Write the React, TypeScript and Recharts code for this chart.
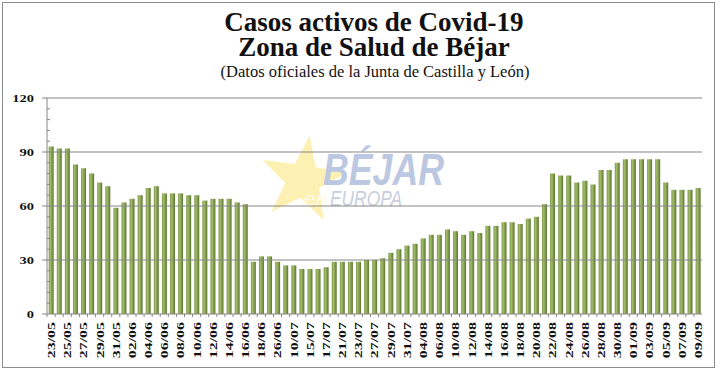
import React from 'react';
import { BarChart, Bar, XAxis, YAxis, ReferenceLine } from 'recharts';

// fechas con dato publicado (etiquetas cada dos barras)
const fechas = [
  '23/05', '24/05', '25/05', '26/05', '27/05', '28/05', '29/05', '30/05', '31/05',
  '01/06', '02/06', '03/06', '04/06', '05/06', '06/06', '07/06', '08/06', '09/06',
  '10/06', '11/06', '12/06', '13/06', '14/06', '15/06', '16/06', '17/06', '18/06',
  '22/06', '26/06', '03/07', '10/07', '14/07', '15/07', '16/07', '17/07', '20/07',
  '21/07', '22/07', '23/07', '24/07', '27/07', '28/07', '29/07', '30/07', '31/07',
  '03/08', '04/08', '05/08', '06/08', '07/08', '10/08', '11/08', '12/08', '13/08',
  '14/08', '15/08', '16/08', '17/08', '18/08', '19/08', '20/08', '21/08', '22/08',
  '23/08', '24/08', '25/08', '26/08', '27/08', '28/08', '29/08', '30/08', '31/08',
  '01/09', '02/09', '03/09', '04/09', '05/09', '06/09', '07/09', '08/09', '09/09'
];

const casos = [
  93, 92, 92, 83, 81, 78, 73, 71, 59,
  62, 64, 66, 70, 71, 67, 67, 67, 66,
  66, 63, 64, 64, 64, 62, 61, 29, 32,
  32, 29, 27, 27, 25, 25, 25, 26, 29,
  29, 29, 29, 30, 30, 31, 34, 36, 38,
  39, 42, 44, 44, 47, 46, 44, 46, 45,
  49, 49, 51, 51, 50, 53, 54, 61, 78,
  77, 77, 73, 74, 72, 80, 80, 84, 86,
  86, 86, 86, 86, 73, 69, 69, 69, 70
];

const yTicks = [0, 6, 12, 18, 24, 30, 36, 42, 48, 54, 60, 66, 72, 78, 84, 90, 96, 102, 108, 114, 120];
const yLabels = [0, 30, 60, 90, 120];
const gridLines = [30, 60, 90, 120];

const data = fechas.map((fecha, i) => ({ fecha, casos: casos[i] }));

const AXIS = '#868686';
const SERIF = '"Liberation Serif", "Times New Roman", serif';

const XTick = (props: any) => {
  const { x, y, index, payload } = props;
  return (
    <g>
      <line x1={x - 4} x2={x - 4} y1={y} y2={y + 3} stroke={AXIS} />
      {index % 2 === 0 && (
        <g transform={`translate(${x},${y + 8})`}>
          <text
            transform="rotate(-90) scale(1.45,1)"
            textAnchor="end"
            dy="0.36em"
            fontFamily={SERIF}
            fontWeight="bold"
            fontSize={11}
            fill="#111"
          >
            {payload.value}
          </text>
        </g>
      )}
    </g>
  );
};

const YTick = (props: any) => {
  const { x, y, payload } = props;
  const major = yLabels.includes(payload.value);
  if (!major) {
    return <line x1={x} x2={x + 3} y1={y} y2={y} stroke={AXIS} />;
  }
  return (
    <g>
      <line x1={x - 5} x2={x} y1={y} y2={y} stroke={AXIS} />
      <g transform={`translate(${x - 13},${y})`}>
        <text
          transform="scale(1.45,1)"
          textAnchor="end"
          dy="0.36em"
          fontFamily={SERIF}
          fontWeight="bold"
          fontSize={10}
          fill="#111"
        >
          {payload.value}
        </text>
      </g>
    </g>
  );
};

// estrella del logo de fondo
const starPoints = (() => {
  const cx = 303, cy = 180, R = 45, r = 18;
  const pts: string[] = [];
  for (let i = 0; i < 10; i++) {
    const a = -Math.PI / 2 + 0.15 + (i * Math.PI) / 5;
    const rad = i % 2 === 0 ? R : r;
    pts.push(`${(cx + rad * Math.cos(a)).toFixed(1)},${(cy + rad * Math.sin(a)).toFixed(1)}`);
  }
  return pts.join(' ');
})();

export default function App() {
  return (
    <div style={{ position: 'absolute', left: 0, top: 0, width: 720, height: 372, background: '#fff' }}>
      {/* fondo: marco, títulos y logo */}
      <svg width={720} height={372} style={{ position: 'absolute', left: 0, top: 0 }}>
        <rect x={2.5} y={2.5} width={712} height={365} fill="#fff" stroke="#8c8c8c" />
        <text x={374} y={31} textAnchor="middle" fontFamily={SERIF} fontWeight="bold" fontSize={27} fill="#111">
          Casos activos de Covid-19
        </text>
        <text x={374} y={56} textAnchor="middle" fontFamily={SERIF} fontWeight="bold" fontSize={27} fill="#111">
          Zona de Salud de Béjar
        </text>
        <text x={375} y={77} textAnchor="middle" fontFamily={SERIF} fontSize={16.5} fill="#111">
          (Datos oficiales de la Junta de Castilla y León)
        </text>
        <polygon points={starPoints} fill="#fbeda6" opacity={0.85} />
        <text
          x={323}
          y={185}
          fontFamily='"Liberation Sans", Arial, sans-serif'
          fontWeight="bold"
          fontStyle="italic"
          fontSize={44}
          textLength={121}
          lengthAdjust="spacingAndGlyphs"
          fill="#bcc7e2"
        >
          BÉJAR
        </text>
        <text x={304} y={206} fontFamily='"Liberation Sans", Arial, sans-serif' fontStyle="italic" fontSize={21} fill="#fffbe8">
          en
        </text>
        <text
          x={330}
          y={206}
          fontFamily='"Liberation Sans", Arial, sans-serif'
          fontStyle="italic"
          fontSize={22}
          textLength={72}
          lengthAdjust="spacingAndGlyphs"
          fill="#c9cedd"
        >
          EUROPA
        </text>
      </svg>
      <div style={{ position: 'absolute', left: 0, top: 0 }}>
        <BarChart
          width={720}
          height={372}
          data={data}
          margin={{ top: 98, right: 18, left: 1, bottom: 8 }}
          barCategoryGap="21%"
        >
          <defs>
            <linearGradient id="verde" x1="0" y1="0" x2="1" y2="0">
              <stop offset="0%" stopColor="#7f9a48" />
              <stop offset="35%" stopColor="#a2bc6c" />
              <stop offset="100%" stopColor="#5a752d" />
            </linearGradient>
          </defs>
          {gridLines.map((v) => (
            <ReferenceLine key={v} y={v} stroke={AXIS} strokeWidth={1} />
          ))}
          <XAxis
            dataKey="fecha"
            interval={0}
            height={50}
            tickSize={0}
            tickMargin={0}
            tickLine={false}
            axisLine={{ stroke: AXIS }}
            tick={<XTick />}
          />
          <YAxis
            width={46}
            domain={[0, 120]}
            ticks={yTicks}
            interval={0}
            tickSize={0}
            tickMargin={0}
            tickLine={false}
            axisLine={{ stroke: AXIS }}
            tick={<YTick />}
          />
          <Bar dataKey="casos" fill="url(#verde)" isAnimationActive={false} />
        </BarChart>
      </div>
    </div>
  );
}
